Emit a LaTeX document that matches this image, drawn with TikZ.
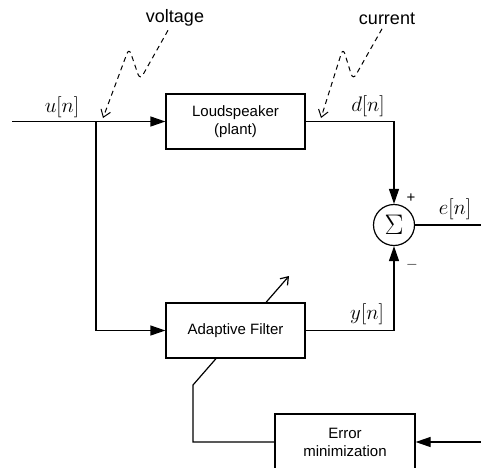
\documentclass[tikz,border=0pt]{standalone}
\usepackage{fix-cm}
\usepackage{fontspec}
\setmainfont{Liberation Sans}
\usetikzlibrary{arrows.meta}

\begin{document}
\begin{tikzpicture}[
  x=1pt, y=-1pt,
  line width=1.2pt,
  block/.style={draw, minimum width=139pt, minimum height=55pt, align=center,
    font=\fontsize{15}{18}\selectfont},
  sumnode/.style={draw, circle, minimum size=41pt, inner sep=0pt,
    font=\fontsize{21}{24}\selectfont},
  sig/.style={font=\fontsize{21}{24}\selectfont, inner sep=1pt},
  note/.style={font=\fontsize{18}{20}\selectfont},
  sign/.style={font=\fontsize{15}{18}\selectfont, inner sep=1pt},
  conn/.style={-{Triangle[length=15pt,width=10pt]}},
  probe/.style={dash pattern=on 5pt off 4pt, line width=1pt, rounded corners=6pt,
    -{Straight Barb[length=7pt,width=10pt]}}
  ]

\clip (0,0) rectangle (481,467);

% blocks
\node[block] (plant) at (235.5,121.5) {Loudspeaker\\(plant)};
\node[block] (filter) at (235.5,330.5) {Adaptive Filter};
\node[block, minimum width=140pt, minimum height=56pt] (errmin) at (345,442) {Error\\minimization};
\node[sumnode] (sum) at (394,225) {\scalebox{1.35}{$\Sigma$}};

% signal labels
\node[sig] (ulabel) at (62,107) {$u[n]$};
\node[sig] (dlabel) at (368,106) {$d[n]$};
\node[sig] (ylabel) at (367,314) {$y[n]$};
\node[sig] (elabel) at (455,209) {$e[n]$};
\node[sign] (plus) at (411,198) {+};
\node[sign] (minus) at (412,265) {$-$};
\node[note] (vlabel) at (175,18) {voltage};
\node[note] (clabel) at (387,19) {current};

\coordinate (in) at (12,121.5);
\coordinate (split) at (96,121.5);
\coordinate (out) at (481,225);
\coordinate (errin) at (481,442);
\coordinate (bend) at (193,385);
\coordinate (adj) at (289,276);
\coordinate (vtip) at (103,118);
\coordinate (ctip) at (321,118);

% signal path
\draw (in) -- (split);
\draw[conn] (split) -- (plant);
\draw[conn] (split) |- (filter.west);
\draw[conn] (plant.east) -| (sum.north);
\draw[conn] (filter.east) -| (sum.south);
\draw (sum.east) -- (out);

% adaptation loop
\draw[conn] (errin) -- (errmin.east);
\draw (errmin.west) -| (bend) -- ([xshift=-19.5pt]filter.south);
\draw[-{Straight Barb[length=7pt,width=10pt]}] ([xshift=30.5pt]filter.north) -- (adj);

% measured quantities
\draw[probe] ([xshift=-7pt]vlabel.south) -- (140,80) -- (129,48) -- (vtip);
\draw[probe] ([xshift=-5pt]clabel.south) -- (353,80) -- (343,48) -- (ctip);

\end{tikzpicture}
\end{document}
